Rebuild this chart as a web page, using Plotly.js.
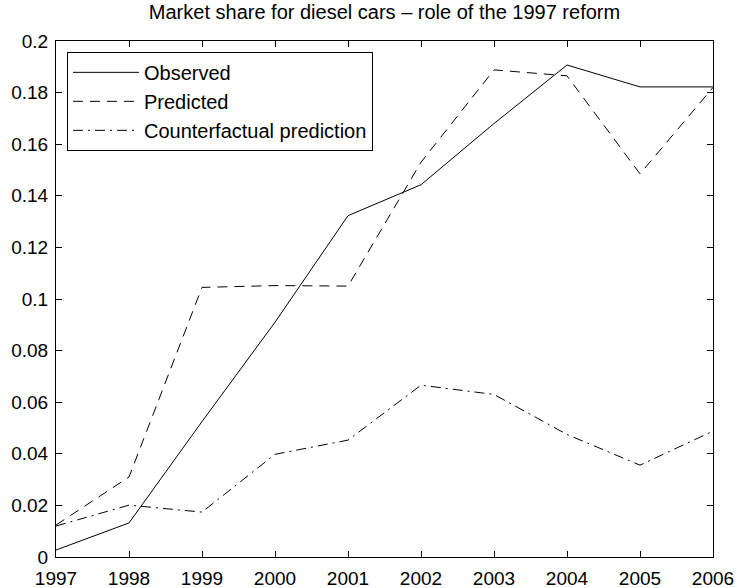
<!DOCTYPE html>
<html>
<head>
<meta charset="utf-8">
<script src="https://cdn.plot.ly/plotly-3.0.1.min.js"></script>
<style>html,body{margin:0;padding:0;background:#fff;}#chart{width:737px;height:588px;}</style>
</head>
<body>
<div id="chart"></div>
<script>
const years = [1997, 1998, 1999, 2000, 2001, 2002, 2003, 2004, 2005, 2006];
const observed = [0.0027, 0.0132, 0.0525, 0.0910, 0.1323, 0.1443, 0.1680, 0.1907, 0.1822, 0.1822];
const predicted = [0.0124, 0.0310, 0.1045, 0.1052, 0.1050, 0.1530, 0.1888, 0.1865, 0.1485, 0.1820];
const counterfactual = [0.0120, 0.0201, 0.0174, 0.0398, 0.0453, 0.0666, 0.0630, 0.0475, 0.0356, 0.0488];
const seriesNames = ["Observed", "Predicted", "Counterfactual prediction"];
const yTickVals = [0, 0.02, 0.04, 0.06, 0.08, 0.1, 0.12, 0.14, 0.16, 0.18, 0.2];
const yTickText = ["0", "0.02", "0.04", "0.06", "0.08", "0.1", "0.12", "0.14", "0.16", "0.18", "0.2"];
const xTickText = years.map(String);
const chartTitle = "Market share for diesel cars \u2013 role of the 1997 reform";

const FONT = "Liberation Sans, Arial, Helvetica, sans-serif";

const traces = [
  {x: years, y: observed, name: seriesNames[0], mode: "lines",
   line: {color: "#000", width: 1, dash: "solid"}},
  {x: years, y: predicted, name: seriesNames[1], mode: "lines",
   line: {color: "#000", width: 1, dash: "10px,7px"}},
  {x: years, y: counterfactual, name: seriesNames[2], mode: "lines",
   line: {color: "#000", width: 1, dash: "10px,5px,2px,5px"}}
];

const axisCommon = {
  showline: true, linecolor: "#000", linewidth: 1, mirror: "ticks",
  ticks: "inside", ticklen: 6, tickcolor: "#000", tickwidth: 1,
  showgrid: false, zeroline: false,
  tickfont: {family: FONT, size: 19, color: "#000"}
};

const layout = {
  width: 737, height: 588,
  margin: {l: 56, r: 24, t: 41, b: 31, pad: 0},
  paper_bgcolor: "#fff", plot_bgcolor: "#fff",
  font: {family: FONT, color: "#000"},
  title: {text: chartTitle, font: {family: FONT, size: 20, color: "#000"},
          x: 0.5, xref: "paper", xanchor: "center", y: 0.98, yref: "container", yanchor: "middle"},
  xaxis: Object.assign({}, axisCommon, {range: [1997, 2006], tickvals: years, ticktext: xTickText, ticklabelstandoff: 4}),
  yaxis: Object.assign({}, axisCommon, {range: [0, 0.2], tickvals: yTickVals, ticktext: yTickText, ticklabelstandoff: 3}),
  showlegend: true,
  legend: {x: 0.0167, y: 0.979, xanchor: "left", yanchor: "top",
           bgcolor: "#fff", bordercolor: "#000", borderwidth: 1, itemwidth: 66,
           font: {family: FONT, size: 20, color: "#000"}, tracegroupgap: 0}
};

Plotly.newPlot("chart", traces, layout, {displayModeBar: false, staticPlot: true});
</script>
</body>
</html>
